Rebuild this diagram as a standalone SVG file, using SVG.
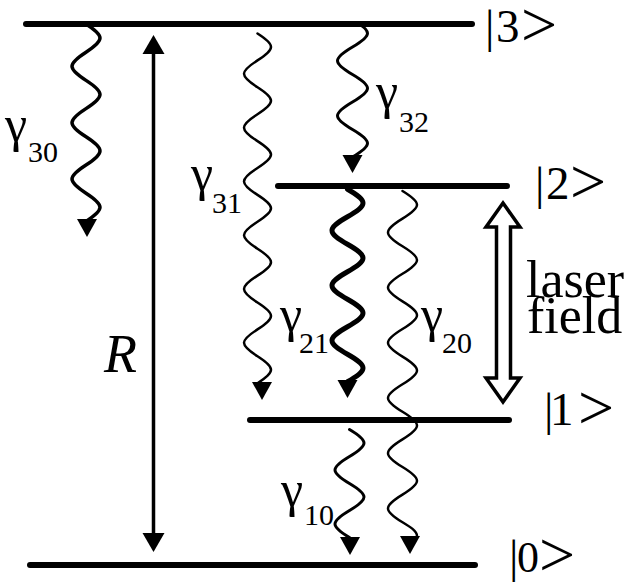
<svg xmlns="http://www.w3.org/2000/svg" xmlns:xlink="http://www.w3.org/1999/xlink" width="629" height="585" viewBox="0 0 629 585">
<style>
.lvl{stroke:#000;stroke-width:6;stroke-linecap:round;fill:none}
.wave{stroke:#000;fill:none;stroke-linecap:round}
text{font-family:'Liberation Serif','Times New Roman',serif;fill:#000}
.ket{font-size:47px}
.gk{font-size:50px}
.sub{font-size:30px}
.big{font-size:64px}
</style>
<defs>
<path id="wh" d="M-10 0 H10 L0 18 Z" fill="#000"/>
<path id="rh" d="M-11 0 H11 L0 -19 Z" fill="#000"/>
<clipPath id="below3"><rect x="0" y="22" width="629" height="563"/></clipPath>
</defs>
<rect width="629" height="585" fill="#fff"/>
<g id="connectors">
<g id="w30">
<path class="wave" stroke-width="3.5" d="M86 24 c18.67 11.97 18.67 16.23 0 28.2 s-18.67 16.23 0 28.2 s18.67 16.23 0 28.2 s-18.67 16.23 0 28.2 s18.67 16.23 0 28.2 s-18.67 16.23 0 28.2 s18.67 16.23 0 28.2"/>
<use xlink:href="#wh" x="87" y="219"/>
<text class="gk" x="5" y="141">γ<tspan class="sub" x="28" y="162">30</tspan></text>
</g>
<g id="w31">
<path class="wave" stroke-width="2.5" d="M257.5 33.5 c18 11.42 18 15.48 0 26.9 s-18 15.48 0 26.9 s18 15.48 0 26.9 s-18 15.48 0 26.9 s18 15.48 0 26.9 s-18 15.48 0 26.9 s18 15.48 0 26.9 s-18 15.48 0 26.9 s18 15.48 0 26.9 s-18 15.48 0 26.9 s18 15.48 0 26.9 s-18 15.48 0 26.9 s18 15.48 0 26.9"/>
<use xlink:href="#wh" x="262" y="382"/>
<text class="gk" x="191" y="190">γ<tspan class="sub" x="212" y="213">31</tspan></text>
</g>
<g id="w32">
<path class="wave" stroke-width="3" clip-path="url(#below3)" d="M352.5 19.5 c20 11.67 20 15.83 0 27.5 s-20 15.83 0 27.5 s20 15.83 0 27.5 s-20 15.83 0 27.5 s20 15.83 0 27.5"/>
<use xlink:href="#wh" x="352.5" y="155"/>
<text class="gk" x="376" y="108">γ<tspan class="sub" x="399" y="132">32</tspan></text>
</g>
<g id="w21">
<path class="wave" stroke-width="5" d="M347.5 189.25 c20.67 11.67 20.67 15.83 0 27.5 s-20.67 15.83 0 27.5 s20.67 15.83 0 27.5 s-20.67 15.83 0 27.5 s20.67 15.83 0 27.5 s-20.67 15.83 0 27.5 s20.67 15.83 0 27.5"/>
<use xlink:href="#wh" x="347.5" y="380"/>
<text class="gk" x="280" y="331">γ<tspan class="sub" x="299" y="353">21</tspan></text>
</g>
<g id="w20">
<path class="wave" stroke-width="2.5" d="M402.5 191 c19.33 11.71 19.33 15.89 0 27.6 s-19.33 15.89 0 27.6 s19.33 15.89 0 27.6 s-19.33 15.89 0 27.6 s19.33 15.89 0 27.6 s-19.33 15.89 0 27.6 s19.33 15.89 0 27.6 s-19.33 15.89 0 27.6 s19.33 15.89 0 27.6 s-19.33 15.89 0 27.6 s19.33 15.89 0 27.6 s-19.33 15.89 0 27.6 c7.43 4.5 14.5 8.81 14.5 13.8"/>
<use xlink:href="#wh" x="410" y="536"/>
<text class="gk" x="421" y="331">γ<tspan class="sub" x="442" y="353">20</tspan></text>
</g>
<g id="w10">
<path class="wave" stroke-width="3" d="M349.5 429.5 c19.33 11.46 19.33 15.54 0 27 s-19.33 15.54 0 27 s19.33 15.54 0 27 s-19.33 15.54 0 27"/>
<use xlink:href="#wh" x="350" y="537"/>
<text class="gk" x="281" y="506">γ<tspan class="sub" x="304" y="525">10</tspan></text>
</g>
<g id="pump">
<line x1="153.5" y1="52" x2="153.5" y2="535" stroke="#000" stroke-width="3.5"/>
<use xlink:href="#rh" x="153.5" y="54"/>
<use xlink:href="#rh" transform="translate(153.5 533) rotate(180)"/>
<text x="104" y="372" font-size="54" font-style="italic">R</text>
</g>
<g id="laser">
<path d="M503 203 L520 227 L510.5 227 L510.5 378 L520 378 L503 402 L486 378 L496.5 378 L496.5 227 L486 227 Z" fill="#fff" stroke="#000" stroke-width="3.5" stroke-linejoin="miter"/>
<text font-size="52"><tspan x="526" y="297">laser</tspan><tspan x="527" y="333">field</tspan></text>
</g>
</g>
<g id="level3">
<line class="lvl" x1="26" y1="24" x2="472" y2="24"/>
<text class="ket" x="485" y="42" dx="0 1.6">|3<tspan class="big" dx="1.5" dy="4">&gt;</tspan></text>
</g>
<g id="level2">
<line class="lvl" x1="278" y1="186" x2="507" y2="186"/>
<text class="ket" x="535" y="199" dx="0 1.6">|2<tspan class="big" dx="0.5" dy="4">&gt;</tspan></text>
</g>
<g id="level1">
<line class="lvl" x1="250" y1="420" x2="509" y2="420"/>
<text class="ket" x="544" y="425" dx="0 -3.4">|1<tspan class="big" dx="4.5" dy="4">&gt;</tspan></text>
</g>
<g id="level0">
<line class="lvl" x1="30" y1="565" x2="475" y2="565"/>
<text class="ket" x="509" y="572">|<tspan dx="-1.4" font-size="44">0</tspan><tspan class="big" dy="4">&gt;</tspan></text>
</g>
</svg>
